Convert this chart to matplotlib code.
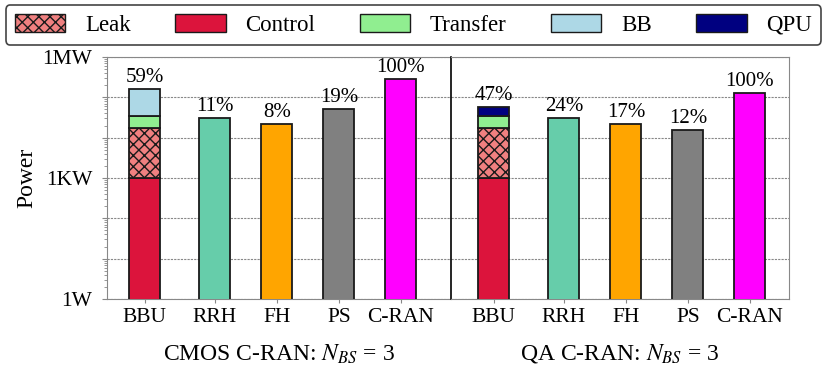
import matplotlib
matplotlib.use("Agg")
import matplotlib.pyplot as plt
from matplotlib.patches import Patch

plt.rcParams['font.family'] = ['Liberation Serif', 'DejaVu Serif']
plt.rcParams['mathtext.fontset'] = 'stix'

# data (Watts)
labels = ["BBU", "RRH", "FH", "PS", "C-RAN"]
cmos_control = 1000
cmos_leak = 16200
cmos_transfer = 17500
cmos_bb = 130000
cmos_other = [30500, 21600, 52700, 280000]   # RRH, FH, PS, C-RAN
cmos_pct = ["59%", "11%", "8%", "19%", "100%"]

qa_control = 1000
qa_leak = 16800
qa_transfer = 16900
qa_qpu = 24500
qa_other = [30500, 21600, 15800, 127000]
qa_pct = ["47%", "24%", "17%", "12%", "100%"]

other_colors = ["#66CDAA", "#FFA500", "#808080", "#FF00FF"]
pos = [0, 1.13, 2.13, 3.13, 4.13]
w = 0.5
ec = "#1a1a1a"
fs = 15.5

fig = plt.figure(figsize=(8.3, 3.76), dpi=100)
ax1 = fig.add_axes([107 / 830, 77 / 376, 344 / 830, 242 / 376])
ax2 = fig.add_axes([451 / 830, 77 / 376, 338 / 830, 242 / 376], sharey=ax1)


def draw(ax, control, leak, transfer, top, top_color, other, pct, xlim, xlabel):
    x0 = pos[0]
    ax.bar(x0, control, w, color="#DC143C", edgecolor=ec, lw=1.3, zorder=3)
    ax.bar(x0, leak, w, bottom=control, color="#F08080", edgecolor=ec,
           hatch="xxx", lw=1.3, zorder=3)
    b = control + leak
    ax.bar(x0, transfer, w, bottom=b, color="#90EE90", edgecolor=ec, lw=1.3, zorder=3)
    b += transfer
    ax.bar(x0, top, w, bottom=b, color=top_color, edgecolor=ec, lw=1.3, zorder=3)
    heights = [b + top] + other
    ax.bar(pos[1:], other, w, color=other_colors, edgecolor=ec, lw=1.3, zorder=3)
    for x, h, p in zip(pos, heights, pct):
        ax.text(x, h * 1.12, p, ha="center", va="bottom", fontsize=15)
    ax.set_yscale("log")
    ax.set_ylim(1, 1e6)
    ax.set_xlim(*xlim)
    ax.set_xticks(pos)
    ax.set_xticklabels(labels, fontsize=fs)
    ax.set_xlabel(xlabel, fontsize=17, labelpad=11)
    ax.yaxis.grid(True, which="major", ls=(0, (2, 1)), color="#888888", lw=0.8)
    ax.set_axisbelow(True)
    for s in ax.spines.values():
        s.set_color("#888888")
    ax.tick_params(axis="x", length=3, color="#888888")
    ax.tick_params(axis="y", which="both", color="#888888")


draw(ax1, cmos_control, cmos_leak, cmos_transfer, cmos_bb, "#ADD8E6",
     cmos_other, cmos_pct, (-0.61, 4.94), r"CMOS C-RAN: $N_{BS}$ = 3")
draw(ax2, qa_control, qa_leak, qa_transfer, qa_qpu, "#000080",
     qa_other, qa_pct, (-0.69, 4.76), r"QA C-RAN: $N_{BS}$ = 3")

ax1.set_yticks([1, 10, 100, 1e3, 1e4, 1e5, 1e6])
ax1.set_yticklabels(["1W", "", "", "1KW", "", "", "1MW"], fontsize=fs)
ax1.tick_params(axis="y", which="major", pad=7)
ax1.set_ylabel("Power", fontsize=17, labelpad=4)
ax2.tick_params(axis="y", which="both", left=False, labelleft=False)
ax2.spines["left"].set_color("black")
ax2.spines["left"].set_linewidth(1.2)
ax1.spines["right"].set_visible(False)

handles = [
    Patch(facecolor="#F08080", edgecolor=ec, hatch="xxx", label="Leak"),
    Patch(facecolor="#DC143C", edgecolor=ec, label="Control"),
    Patch(facecolor="#90EE90", edgecolor=ec, label="Transfer"),
    Patch(facecolor="#ADD8E6", edgecolor=ec, label="BB"),
    Patch(facecolor="#000080", edgecolor=ec, label="QPU"),
]
leg = fig.legend(handles=handles, loc="upper center", ncol=5,
                 bbox_to_anchor=(413.5 / 830, 1 - 5 / 376),
                 fontsize=16.5, handlelength=2.2, handleheight=0.8,
                 handletextpad=0.85, columnspacing=1.95,
                 borderaxespad=0, fancybox=True, edgecolor="#444444",
                 framealpha=1)
leg.get_frame().set_linewidth(1.2)

fig.savefig("out.png", dpi=100)
